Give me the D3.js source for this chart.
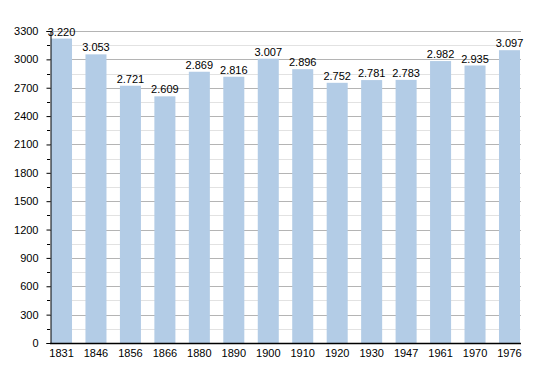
<!DOCTYPE html>
<html>
<head>
<meta charset="utf-8">
<script src="https://cdn.jsdelivr.net/npm/d3@7"></script>
<style>
  body { margin: 0; background: #fff; }
  svg text { font-family: "Liberation Sans", Arial, sans-serif; font-size: 11px; fill: #000; }
</style>
</head>
<body>
<div id="chart"></div>
<script>
const years = ["1831", "1846", "1856", "1866", "1880", "1890", "1900", "1910", "1920", "1930", "1947", "1961", "1970", "1976"];
const population = [3220, 3053, 2721, 2609, 2869, 2816, 3007, 2896, 2752, 2781, 2783, 2982, 2935, 3097];
const yTicks = [0, 300, 600, 900, 1200, 1500, 1800, 2100, 2400, 2700, 3000, 3300];
const yMinor = [150, 450, 750, 1050, 1350, 1650, 1950, 2250, 2550, 2850, 3150];

const width = 550, height = 373;

const svg = d3.select("#chart").append("svg")
  .attr("width", width)
  .attr("height", height);

const x = d3.scaleBand()
  .domain(years)
  .range([51, 520])
  .paddingInner(0.39)
  .paddingOuter(0);

const y = d3.scaleLinear()
  .domain([0, 3300])
  .range([343, 31]);

// minor grid lines
svg.append("g")
  .selectAll("line")
  .data(yMinor)
  .enter()
  .append("line")
  .attr("x1", 50).attr("x2", 521)
  .attr("y1", d => Math.round(y(d)) + 0.5)
  .attr("y2", d => Math.round(y(d)) + 0.5)
  .attr("stroke", "#e2e2e2");

// major grid lines
svg.append("g")
  .selectAll("line")
  .data(yTicks.filter(d => d > 0))
  .enter()
  .append("line")
  .attr("x1", 50).attr("x2", 521)
  .attr("y1", d => Math.round(y(d)) + 0.5)
  .attr("y2", d => Math.round(y(d)) + 0.5)
  .attr("stroke", "#b4b4b4");

// bars
svg.append("g")
  .selectAll("rect")
  .data(population)
  .enter()
  .append("rect")
  .attr("x", (d, i) => x(years[i]))
  .attr("y", d => y(d))
  .attr("width", x.bandwidth())
  .attr("height", d => y(0) - y(d))
  .attr("fill", "#b3cce6");

// value labels
const fmt = d => d3.format(",")(d).replace(",", ".");
svg.append("g")
  .selectAll("text")
  .data(population)
  .enter()
  .append("text")
  .attr("x", (d, i) => x(years[i]) + x.bandwidth() / 2)
  .attr("y", d => y(d) - 3)
  .attr("text-anchor", "middle")
  .text(fmt);

// y axis
const yAxis = d3.axisLeft(y)
  .tickValues(yTicks)
  .tickSize(4)
  .tickPadding(8)
  .tickFormat(d3.format("d"));

const gy = svg.append("g")
  .attr("transform", "translate(50.5,0)")
  .call(yAxis);
gy.select(".domain").attr("stroke", "#000");
gy.selectAll("text").style("font-size", "11px");

svg.append("g")
  .selectAll("line")
  .data(yMinor)
  .enter()
  .append("line")
  .attr("x1", 47).attr("x2", 50)
  .attr("y1", d => Math.round(y(d)) + 0.5)
  .attr("y2", d => Math.round(y(d)) + 0.5)
  .attr("stroke", "#000");

// x axis
const xAxis = d3.axisBottom(x).tickSize(0).tickPadding(6);
const gx = svg.append("g")
  .attr("transform", "translate(0,343.5)")
  .call(xAxis);
gx.select(".domain").remove();
gx.selectAll("text").style("font-size", "11px");

svg.append("line")
  .attr("x1", 50).attr("x2", 521)
  .attr("y1", 343.5).attr("y2", 343.5)
  .attr("stroke", "#000")
  .attr("stroke-width", 1.5);
</script>
</body>
</html>
